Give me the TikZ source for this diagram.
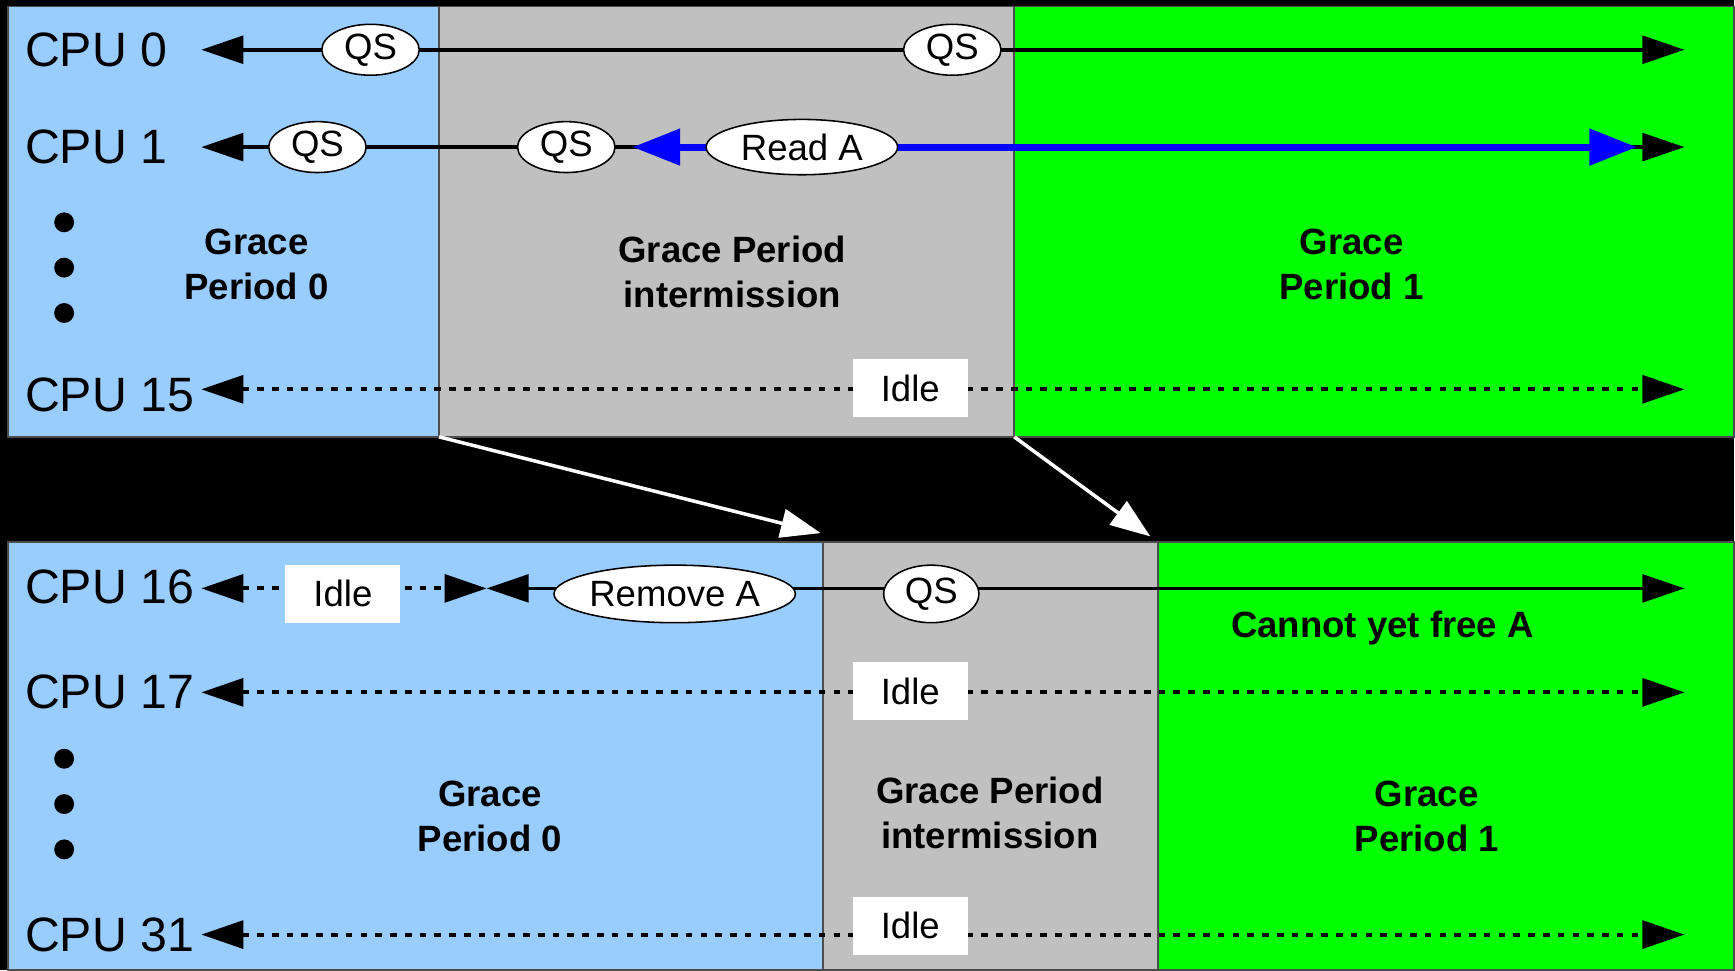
\documentclass[tikz,border=0pt]{standalone}
\usepackage{fontspec}
\setmainfont{Liberation Sans}
\usetikzlibrary{arrows.meta,shapes.geometric}
\definecolor{gpblue}{HTML}{99CCFF}
\definecolor{gpgray}{HTML}{C0C0C0}
\definecolor{gpgreen}{HTML}{00FF00}
\definecolor{readblue}{HTML}{0000FF}
\tikzset{
  cpu/.style={anchor=west,inner sep=0pt,font=\fontsize{12.4}{14}\selectfont},
  period/.style={align=center,inner sep=0pt,font=\fontsize{9.4}{11.7}\selectfont\bfseries},
  qs/.style={ellipse,draw=black,thin,fill=white,inner sep=0pt,minimum width=0.88cm,minimum height=0.46cm,font=\fontsize{9.4}{11}\selectfont},
  idle/.style={rectangle,fill=white,inner sep=0pt,minimum width=1.04cm,minimum height=0.52cm,font=\fontsize{9.4}{11}\selectfont},
  dot/.style={circle,fill=black,inner sep=0pt,minimum size=0.18cm},
  cpuline/.style={draw=black,line width=0.95pt},
  idleline/.style={draw=black,line width=1.05pt,dash pattern=on 1.7pt off 2.1pt},
  readline/.style={draw=readblue,line width=1.8pt,>={Triangle[length=0.43cm,width=0.32cm]}},
  gparrow/.style={draw=white,line width=0.9pt,->,>={Triangle[length=0.36cm,width=0.26cm,fill=white]}}
}
\begin{document}
\begin{tikzpicture}[x=0.01cm,y=-0.01cm,>={Triangle[length=0.38cm,width=0.25cm]}]
\fill[black] (0,0) rectangle (1568,877);

\begin{scope}[draw=black!70,line width=0.4pt]
  \filldraw[fill=gpblue] (7,6) rectangle (397,395);
  \filldraw[fill=gpgray] (397,6) rectangle (917,395);
  \filldraw[fill=gpgreen] (917,6) rectangle (1568,395);
  \filldraw[fill=gpblue] (7,490) rectangle (744,877);
  \filldraw[fill=gpgray] (744,490) rectangle (1047,877);
  \filldraw[fill=gpgreen] (1047,490) rectangle (1568,877);
\end{scope}

\coordinate (T0) at (397,395);
\coordinate (T1) at (917,395);
\coordinate (U0) at (742,482);
\coordinate (U1) at (1040,485);
\draw[gparrow] (T0) -- (U0);
\draw[gparrow] (T1) -- (U1);

\node[cpu] (C0) at (22,45) {CPU 0};
\node[cpu] (C1) at (22,133) {CPU 1};
\node[cpu] (C15) at (22,357) {CPU 15};
\node[cpu] (C16) at (22,531) {CPU 16};
\node[cpu] (C17) at (22,626) {CPU 17};
\node[cpu] (C31) at (22,845) {CPU 31};

\coordinate (L0) at (182,45);   \coordinate (R0) at (1523,45);
\coordinate (L1) at (182,133);  \coordinate (R1) at (1523,133);
\coordinate (L15) at (182,352); \coordinate (R15) at (1523,352);
\coordinate (L16) at (182,532); \coordinate (M16) at (440,532); \coordinate (R16) at (1523,532);
\coordinate (L17) at (182,626); \coordinate (R17) at (1523,626);
\coordinate (L31) at (182,845); \coordinate (R31) at (1523,845);
\coordinate (B1) at (572,133);  \coordinate (E1) at (1480,133);

\draw[cpuline,<->] (L0) -- (R0);
\draw[cpuline,<->] (L1) -- (R1);
\draw[readline,<->] (B1) -- (E1);
\draw[idleline,<->] (L15) -- (R15);
\draw[idleline,<->] (L16) -- (M16);
\draw[cpuline,<->] (M16) -- (R16);
\draw[idleline,<->] (L17) -- (R17);
\draw[idleline,<->] (L31) -- (R31);

\node[qs] (Q0a) at (335,45) {QS};
\node[qs] (Q0b) at (861,45) {QS};
\node[qs] (Q1a) at (287,133) {QS};
\node[qs] (Q1b) at (512,133) {QS};
\node[qs,minimum width=1.73cm,minimum height=0.5cm] (RA) at (725,133) {Read A};
\node[idle] (I15) at (823,351) {Idle};
\node[idle] (I16) at (310,537) {Idle};
\node[qs,minimum width=2.16cm,minimum height=0.52cm] (XA) at (610,537) {Remove A};
\node[qs,minimum width=0.86cm,minimum height=0.52cm] (Q16) at (842,537) {QS};
\node[idle] (I17) at (823,625) {Idle};
\node[idle] (I31) at (823,837) {Idle};

\node[dot] (D0) at (58,201) {};
\node[dot] (D1) at (58,242) {};
\node[dot] (D2) at (58,283) {};
\node[dot] (D3) at (58,686) {};
\node[dot] (D4) at (58,727) {};
\node[dot] (D5) at (58,768) {};

\node[period] (P0) at (232,239) {Grace\\Period 0};
\node[period] (PI) at (662,246) {Grace Period\\intermission};
\node[period] (P1) at (1222,239) {Grace\\Period 1};
\node[period] (P2) at (443,738) {Grace\\Period 0};
\node[period] (PJ) at (895,735) {Grace Period\\intermission};
\node[period] (P3) at (1290,738) {Grace\\Period 1};
\node[period] (F) at (1250,568) {Cannot yet free A};
\end{tikzpicture}
\end{document}
